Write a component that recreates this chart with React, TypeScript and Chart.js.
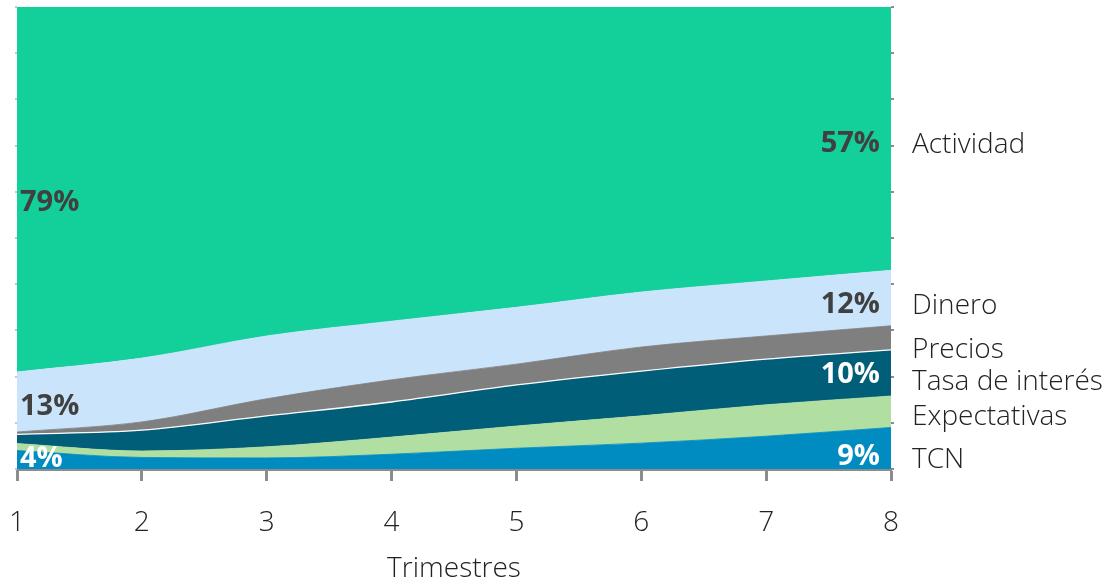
import React, { useEffect, useRef } from "react";
import { Chart, registerables } from "chart.js";

Chart.register(...registerables);

// Quarters on the horizontal axis
const quarters = ["1", "2", "3", "4", "5", "6", "7", "8"];

// Share of each factor (%) per quarter, stacked bottom to top
const tcn = [4, 2.5, 2.4, 3.2, 4.5, 5.6, 7.1, 9];
const expectativas = [1.5, 1.4, 2.4, 3.7, 4.8, 5.9, 6.8, 6.8];
const tasaInteres = [2, 4.5, 6.7, 7.6, 8.9, 9.7, 9.9, 10];
const precios = [0.5, 1.8, 3.7, 4.8, 4.5, 5.2, 5.0, 5.2];
const dinero = [13, 13.8, 13.6, 12.7, 12.3, 11.9, 11.9, 12];
const actividad = [79, 76, 71.2, 68, 65, 61.7, 59.3, 57];

const seriesNames = ["TCN", "Expectativas", "Tasa de interés", "Precios", "Dinero", "Actividad"];
const seriesValues = [tcn, expectativas, tasaInteres, precios, dinero, actividad];
const seriesColors = ["#008CC1", "#B1DEA1", "#005E78", "#7F7F7F", "#CAE4FB", "#13CF99"];

const axisTitle = "Trimestres";

const LIGHT = "'Open Sans', 'Noto Sans', sans-serif";
const TEXT = "#222222";
const DARK = "#404040";

// Percent labels inside the bands: series index, quarter index, colour, side, vertical nudge (px)
const bandLabels = [
  { s: 5, i: 0, color: DARK, side: "left", dy: 13 },
  { s: 4, i: 0, color: DARK, side: "left", dy: 5 },
  { s: 0, i: 0, color: "#FFFFFF", side: "left", dy: -1 },
  { s: 5, i: 7, color: DARK, side: "right", dy: 5 },
  { s: 4, i: 7, color: DARK, side: "right", dy: 7 },
  { s: 2, i: 7, color: "#FFFFFF", side: "right", dy: 2 },
  { s: 0, i: 7, color: "#FFFFFF", side: "right", dy: 9 },
];

// Vertical nudges (px) for the series names at the right edge
const nameNudges = [12, 5, 9, 12, 8, 6];

function bandBounds(s: number, i: number) {
  let lo = 0;
  for (let k = 0; k < s; k++) lo += seriesValues[k][i];
  return [lo, lo + seriesValues[s][i]];
}

const overlayPlugin = {
  id: "overlay",
  afterDatasetsDraw(chart: any) {
    const { ctx, chartArea } = chart;
    const y = chart.scales.y;
    const x = chart.scales.x;
    ctx.save();

    // small tick marks every 10% on both sides
    for (let v = 0; v <= 100; v += 10) {
      const py = Math.round(y.getPixelForValue(v));
      ctx.fillStyle = "#C8C8C8";
      ctx.fillRect(chartArea.left - 2, py - 1, 2, 2);
      ctx.fillStyle = "#8C8C8C";
      ctx.fillRect(chartArea.right, py - 1, 3, 2);
    }

    // percentage labels inside bands
    ctx.font = `bold 29px 'Open Sans', 'Noto Sans', sans-serif`;
    ctx.textBaseline = "middle";
    bandLabels.forEach((l) => {
      const [lo, hi] = bandBounds(l.s, l.i);
      const py = y.getPixelForValue((lo + hi) / 2) + l.dy;
      const px = x.getPixelForValue(l.i);
      ctx.fillStyle = l.color;
      if (l.side === "left") {
        ctx.textAlign = "left";
        ctx.fillText(`${Math.round(seriesValues[l.s][l.i])}%`, px + 3, py);
      } else {
        ctx.textAlign = "right";
        ctx.fillText(`${Math.round(seriesValues[l.s][l.i])}%`, px - 11, py);
      }
    });

    // series names at the right edge
    ctx.font = `300 28px ${LIGHT}`;
    ctx.fillStyle = TEXT;
    ctx.textAlign = "left";
    const last = quarters.length - 1;
    seriesNames.forEach((name, s) => {
      const [lo, hi] = bandBounds(s, last);
      const py = y.getPixelForValue((lo + hi) / 2) + nameNudges[s];
      ctx.fillText(name, chartArea.right + 21, py);
    });

    ctx.restore();
  },
};

export default function App() {
  const ref = useRef<HTMLCanvasElement | null>(null);

  useEffect(() => {
    document.body.style.margin = "0";
    const canvas = ref.current;
    if (!canvas) return;

    const datasets = seriesValues.map((vals, s) => ({
      label: seriesNames[s],
      data: vals,
      backgroundColor: seriesColors[s],
      borderColor: s === 2 ? "#FFFFFF" : seriesColors[s],
      borderWidth: s === 2 ? 1.3 : 0.8,
      fill: s === 0 ? "origin" : "-1",
      pointRadius: 0,
      cubicInterpolationMode: "monotone",
    }));

    const chart = new Chart(canvas, {
      type: "line",
      data: { labels: quarters, datasets },
      plugins: [overlayPlugin],
      options: {
        animation: false,
        responsive: false,
        layout: { padding: { left: 17, right: 216, top: 7, bottom: 0 } },
        plugins: {
          legend: { display: false },
          tooltip: { enabled: false },
        },
        scales: {
          x: {
            offset: false,
            afterFit: (scale: any) => {
              scale.height = 119;
              scale.paddingLeft = 0;
              scale.paddingRight = 0;
            },
            grid: {
              drawOnChartArea: false,
              drawTicks: true,
              tickLength: 12,
              tickWidth: 3,
              tickColor: "#8C8C8C",
            },
            border: { display: true, color: "#8C8C8C", width: 3 },
            ticks: {
              color: TEXT,
              padding: 25,
              maxRotation: 0,
              font: { family: LIGHT, size: 28, weight: "300" },
            },
            title: {
              display: true,
              text: axisTitle,
              color: TEXT,
              padding: { top: 0, bottom: 2 },
              font: { family: LIGHT, size: 28, weight: "300" },
            },
          },
          y: {
            display: false,
            stacked: true,
            min: 0,
            max: 100,
          },
        },
      } as any,
    });

    return () => chart.destroy();
  }, []);

  return <canvas ref={ref} width={1107} height={588} />;
}
